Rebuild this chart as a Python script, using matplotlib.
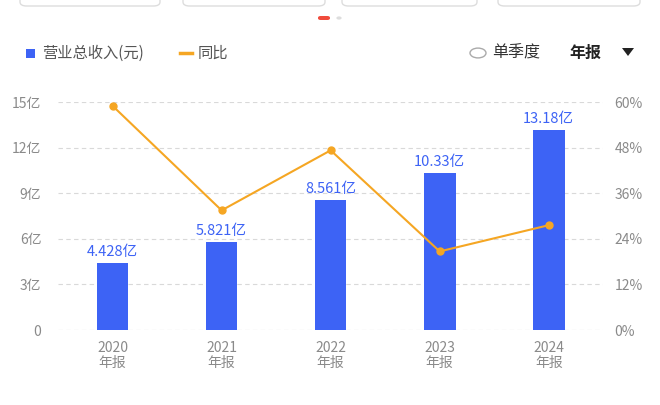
import matplotlib.pyplot as plt
from matplotlib.patches import FancyBboxPatch, Circle

plt.rcParams["font.family"] = "Noto Sans CJK SC"

years = ["2020", "2021", "2022", "2023", "2024"]
revenue = [4.428, 5.821, 8.561, 10.33, 13.18]  # 亿
rev_labels = ["4.428亿", "5.821亿", "8.561亿", "10.33亿", "13.18亿"]
growth = [59.0, 31.5, 47.3, 20.7, 27.6]  # %
left_ticks = [0, 3, 6, 9, 12, 15]
left_labels = ["0", "3亿", "6亿", "9亿", "12亿", "15亿"]
right_ticks = [0, 12, 24, 36, 48, 60]

blue = "#3d63f5"
orange = "#f5a623"
grey = "#8a8a8a"

fig = plt.figure(figsize=(6.6, 4.05), dpi=100)
ax = fig.add_axes([0.088, 0.185, 0.826, 0.563])
x = range(len(years))
ax.bar(x, revenue, width=0.29, color=blue, zorder=3)
for i, v in enumerate(revenue):
    ax.text(i, v + 0.25, rev_labels[i], ha="center", va="bottom", color=blue, fontsize=10.5, zorder=4)
ax.set_xlim(-0.5, 4.5)
ax.set_ylim(0, 15)
ax.set_yticks(left_ticks)
ax.set_yticklabels(left_labels)
ax.set_xticks(list(x))
ax.set_xticklabels([y + "\n年报" for y in years], linespacing=1.1)
ax.tick_params(length=0, colors=grey, labelsize=10, pad=12)
ax.tick_params(axis="x", pad=8)
for t in left_ticks[1:]:
    ax.axhline(t, color="#d9d9d9", lw=0.8, ls=(0, (4, 3)), zorder=1)
ax.axhline(0, color="#bbbbbb", lw=0.8, ls=(0, (4, 3)), zorder=1)
for s in ax.spines.values():
    s.set_visible(False)

ax2 = ax.twinx()
ax2.plot(list(x), growth, color=orange, lw=1.5, marker="o", ms=5, zorder=5)
ax2.set_ylim(0, 60)
ax2.set_yticks(right_ticks)
ax2.set_yticklabels([f"{t}%" for t in right_ticks])
ax2.tick_params(length=0, colors=grey, labelsize=10, pad=8)
for s in ax2.spines.values():
    s.set_visible(False)

# top decorations and legend
W, H = 660, 405
def fx(px): return px / W
def fy(py): return 1 - py / H
for x0, x1 in [(20, 160), (183, 325), (342, 477), (498, 640)]:
    fig.patches.append(FancyBboxPatch((fx(x0), fy(6)), fx(x1 - x0), 0.03, boxstyle="round,pad=0,rounding_size=0.01",
                                      transform=fig.transFigure, fc="white", ec="#dddddd", lw=1))
fig.patches.append(FancyBboxPatch((fx(318), fy(20)), fx(12), fy(16) - fy(20), boxstyle="round,pad=0,rounding_size=0.004",
                                  transform=fig.transFigure, fc="#f04b3c", ec="none"))
fig.patches.append(Circle((fx(339), fy(18)), 0.004, transform=fig.transFigure, fc="#dddddd", ec="none"))

fig.patches.append(plt.Rectangle((fx(26), fy(58)), fx(9), 9 / H, transform=fig.transFigure, fc=blue, ec="none"))
fig.text(fx(42), fy(53), "营业总收入(元)", fontsize=11, color="#555555", va="center")
fig.lines.append(plt.Line2D([fx(180), fx(192)], [fy(53), fy(53)], transform=fig.transFigure, color=orange, lw=2.5))
fig.text(fx(198), fy(53), "同比", fontsize=11, color="#555555", va="center")
fig.patches.append(Circle((fx(478), fy(53)), 8 / W, transform=fig.transFigure, fc="white", ec="#aaaaaa", lw=1))
fig.text(fx(492), fy(53), "单季度", fontsize=11.5, color="#333333", va="center")
fig.text(fx(569), fy(53), "年报", fontsize=11.5, color="#222222", va="center", fontweight="bold")
fig.patches.append(plt.Polygon([(fx(622), fy(48)), (fx(634), fy(48)), (fx(628), fy(56))], transform=fig.transFigure,
                               fc="#222222", ec="none"))

fig.savefig("out.png", dpi=100)
